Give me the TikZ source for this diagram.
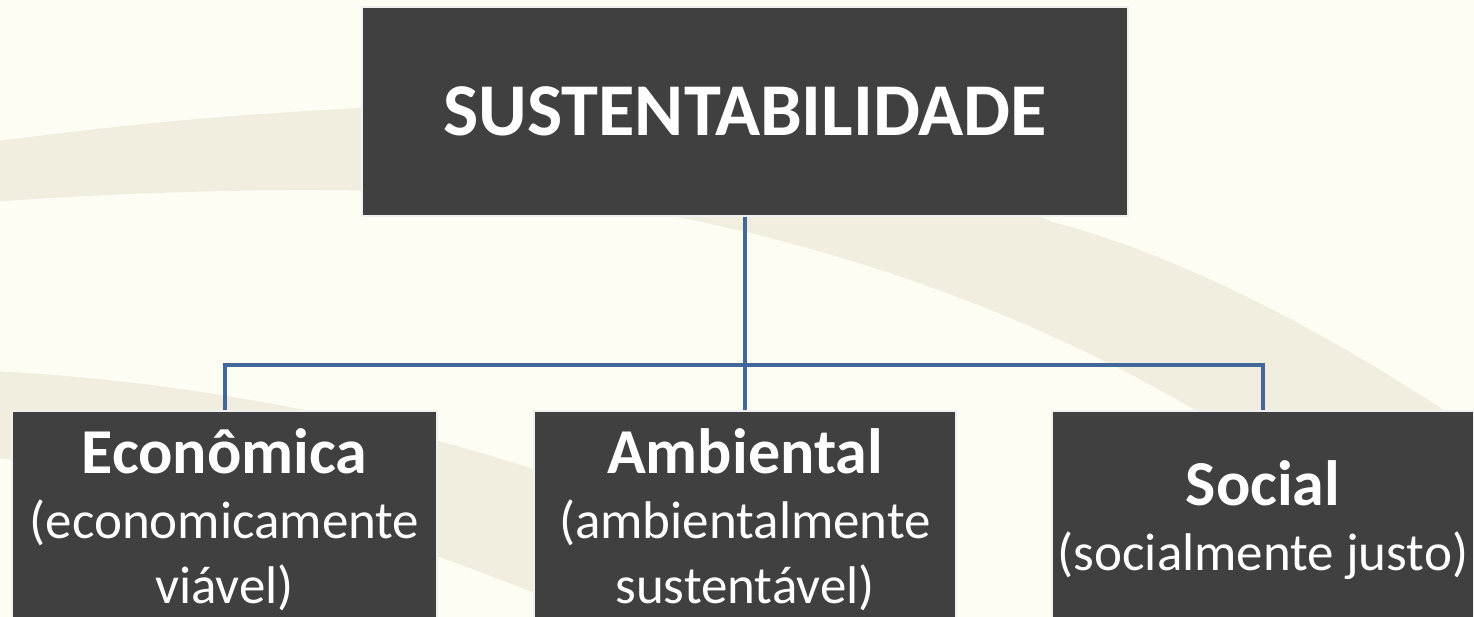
\documentclass[tikz,border=0pt]{standalone}
\usepackage{fontspec}
\setmainfont{Carlito}
\usetikzlibrary{positioning}

\definecolor{paper}{RGB}{253,253,244}
\definecolor{swoosh}{RGB}{241,238,223}
\definecolor{boxgray}{RGB}{64,64,64}
\definecolor{boxedge}{RGB}{240,240,240}
\definecolor{linkblue}{RGB}{66,103,154}

\pgfdeclarelayer{background}
\pgfsetlayers{background,main}

\tikzset{
  box/.style={fill=boxgray, draw=boxedge, line width=1.5pt, text=white,
              align=center, inner sep=0pt, font=\fontsize{53}{65}\selectfont},
  link/.style={draw=linkblue, line width=4pt},
}

\newcommand{\headline}[1]{{\fontsize{64}{65}\selectfont\bfseries #1}}

\begin{document}
\begin{tikzpicture}[x=1pt, y=-1pt]
                \useasboundingbox (0,0) rectangle (1474,617);
                \clip (0,0) rectangle (1474,617);

                % Boxes:
                \node[box, minimum width=766, minimum height=209] (top) at (745,111.5)
                    {\fontsize{74.5}{84}\selectfont\bfseries SUSTENTABILIDADE};
                \node[box, minimum width=425, minimum height=218] (eco) at (224.5,520)
                    {\headline{Econômica}\\(economicamente\\viável)};
                \node[box, minimum width=422, minimum height=218] (amb) at (745,520)
                    {\headline{Ambiental}\\(ambientalmente\\sustentável)};
                \node[box, minimum width=422, minimum height=218] (soc) at (1263,520)
                    {\headline{Social}\\(socialmente justo)};
                \coordinate (bar) at (745,365);

                \begin{pgfonlayer}{background}
                % Paper and swooshes:
                \fill[paper] (0,0) rectangle (1474,617);
                \fill[swoosh] (-10,202) .. controls (300,180) and (550,190) .. (702,222)
                    .. controls (900,265) and (1100,340) .. (1290,470)
                    -- (1530,470) .. controls (1380,360) and (1200,260) .. (1052,222)
                    .. controls (900,150) and (600,95) .. (362,108)
                    .. controls (200,116) and (100,128) .. (-10,142) -- cycle;
                \fill[swoosh] (-10,371) .. controls (150,378) and (350,410) .. (527,467)
                    .. controls (700,525) and (820,600) .. (900,660)
                    -- (760,660) .. controls (680,630) and (600,615) .. (527,590)
                    .. controls (400,540) and (200,470) .. (-10,458) -- cycle;

                % Links:
                \draw[link] (top.south) -- (amb.north);
                \draw[link] (eco.north) |- (bar) -| (soc.north);
                \end{pgfonlayer}
\end{tikzpicture}
\end{document}
